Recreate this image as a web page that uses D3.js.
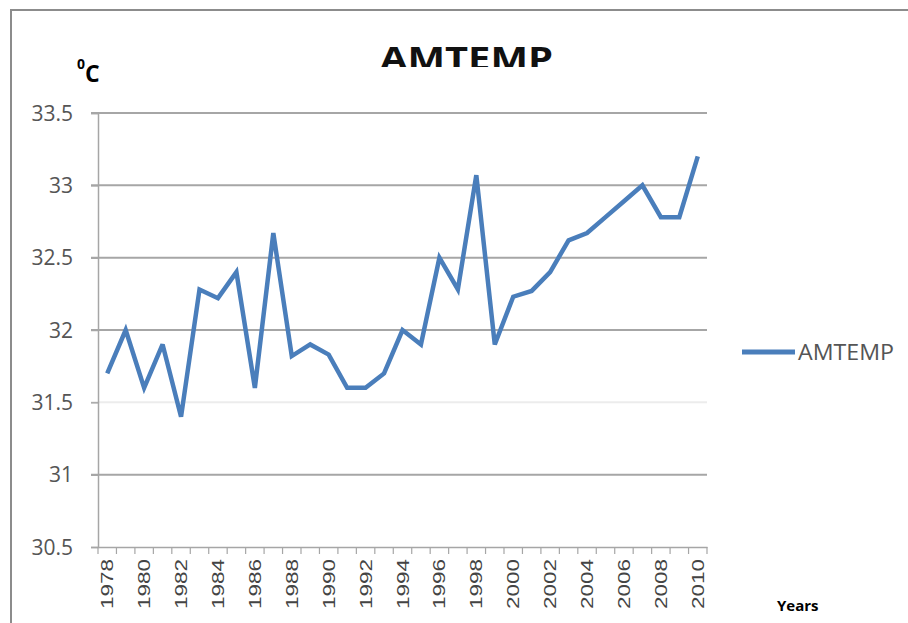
<!DOCTYPE html>
<html>
<head>
<meta charset="utf-8">
<script src="https://cdn.jsdelivr.net/npm/d3@7"></script>
<style>
  html, body { margin: 0; padding: 0; background: #fff; }
  svg { display: block; }
</style>
</head>
<body>
<svg id="chart" width="908" height="623"></svg>
<script>
const years = d3.range(1978, 2011);
const amtemp = [31.7, 32.0, 31.6, 31.9, 31.4, 32.28, 32.22, 32.4, 31.6, 32.67,
                31.82, 31.9, 31.83, 31.6, 31.6, 31.7, 32.0, 31.9, 32.5, 32.28,
                33.07, 31.9, 32.23, 32.27, 32.4, 32.62, 32.67, 32.78, 32.89, 33.0,
                32.78, 32.78, 33.2];
const yTicks = [30.5, 31, 31.5, 32, 32.5, 33, 33.5];
const xLabels = [1978, 1980, 1982, 1984, 1986, 1988, 1990, 1992, 1994, 1996,
                 1998, 2000, 2002, 2004, 2006, 2008, 2010];
const seriesName = "AMTEMP";

const svg = d3.select("#chart");
const mLeft = 98, mRight = 707, mTop = 113, mBottom = 547;
const lineColor = "#4a7ebb";

// frame
svg.append("path").attr("d", "M11,623 L11,10 L908,10")
  .attr("fill", "none").attr("stroke", "#8c8c8c").attr("stroke-width", 2);

const x = d3.scaleBand().domain(years).range([mLeft, mRight]);
const y = d3.scaleLinear().domain([30.5, 33.5]).range([mBottom, mTop]);

// gridlines
svg.append("g").selectAll("line").data(yTicks.filter(t => t !== 30.5)).join("line")
  .attr("x1", mLeft - 7).attr("x2", mRight)
  .attr("y1", d => y(d)).attr("y2", d => y(d))
  .attr("stroke", d => d === 31.5 ? "#ececec" : "#a6a6a6").attr("stroke-width", 2);

// y axis
const yAxis = svg.append("g").attr("transform", `translate(${mLeft},0)`)
  .call(d3.axisLeft(y).tickValues(yTicks).tickSize(7).tickFormat(d3.format("")));
yAxis.select(".domain").attr("stroke", "#a6a6a6").attr("stroke-width", 1.5);
yAxis.selectAll(".tick line").attr("stroke", "#a6a6a6").attr("stroke-width", 1.5);
yAxis.selectAll(".tick text").attr("font-family", "Open Sans, sans-serif")
  .attr("font-size", 21).attr("fill", "#555").attr("x", -25).attr("dy", "0.34em");

// x axis
const xAxis = svg.append("g").attr("transform", `translate(0,${mBottom})`)
  .call(d3.axisBottom(x).tickValues([]).tickSizeOuter(0));
xAxis.select(".domain").attr("stroke", "#a6a6a6").attr("stroke-width", 1.5);
xAxis.selectAll("line.cat").data(years.concat([null])).join("line")
  .attr("class", "cat")
  .attr("x1", (d, i) => mLeft + i * x.step()).attr("x2", (d, i) => mLeft + i * x.step())
  .attr("y1", 0).attr("y2", 7).attr("stroke", "#a6a6a6").attr("stroke-width", 1.2);
xAxis.selectAll("text.lab").data(xLabels).join("text")
  .attr("class", "lab")
  .attr("transform", d => `translate(${x(d) + x.bandwidth() / 2 + 6},12) rotate(-90)`)
  .attr("text-anchor", "end")
  .attr("textLength", 50).attr("lengthAdjust", "spacingAndGlyphs")
  .attr("font-family", "Liberation Sans, Arial, sans-serif")
  .attr("font-size", 17).attr("fill", "#444")
  .text(d => d);

// line
const line = d3.line()
  .x((d, i) => x(years[i]) + x.bandwidth() / 2)
  .y(d => y(d));
svg.append("path").datum(amtemp)
  .attr("d", line).attr("fill", "none")
  .attr("stroke", lineColor).attr("stroke-width", 4.5)
  .attr("stroke-linejoin", "miter").attr("stroke-miterlimit", 3);

// title (clipped at bottom as in the reference)
svg.append("clipPath").attr("id", "tclip")
  .append("rect").attr("x", 300).attr("y", 30).attr("width", 320).attr("height", 37);
svg.append("text")
  .attr("clip-path", "url(#tclip)")
  .attr("x", 380).attr("y", 70)
  .attr("textLength", 173).attr("lengthAdjust", "spacingAndGlyphs")
  .attr("font-family", "Open Sans, sans-serif").attr("font-weight", "bold")
  .attr("font-size", 32).attr("fill", "#111")
  .text("AMTEMP");

// unit label
const unit = svg.append("text").attr("x", 77).attr("y", 82)
  .attr("font-family", "Open Sans, sans-serif").attr("font-weight", "bold").attr("fill", "#000");
unit.append("tspan").attr("font-size", 14).attr("dy", -13).text("0");
unit.append("tspan").attr("font-size", 23).attr("dy", 13).text("C");

// x axis title
svg.append("text").attr("x", 777).attr("y", 611)
  .attr("font-family", "Open Sans, sans-serif").attr("font-weight", "bold")
  .attr("font-size", 15).attr("fill", "#000").text("Years");

// legend
const lg = svg.append("g").attr("transform", "translate(742,352)");
lg.append("line").attr("x1", 0).attr("x2", 53).attr("y1", 0).attr("y2", 0)
  .attr("stroke", lineColor).attr("stroke-width", 5);
lg.append("text").attr("x", 56).attr("y", 8)
  .attr("textLength", 96).attr("lengthAdjust", "spacingAndGlyphs")
  .attr("font-family", "Open Sans, sans-serif").attr("font-size", 21).attr("fill", "#555")
  .text(seriesName);
</script>
</body>
</html>
